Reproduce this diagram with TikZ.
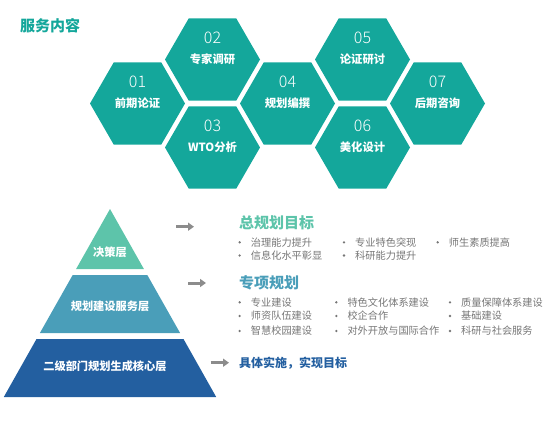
\documentclass[tikz,border=0pt]{standalone}
\usepackage{fontspec}
\newfontfamily\cjk{Noto Sans CJK SC}
\newfontfamily\cjkxi{Noto Sans CJK SC Light}
\usetikzlibrary{arrows.meta,shapes.geometric}
\definecolor{qing}{RGB}{20,167,155}
\definecolor{bohe}{RGB}{93,196,170}
\definecolor{hulan}{RGB}{74,158,185}
\definecolor{shenlan}{RGB}{35,95,160}
\definecolor{huise}{RGB}{118,118,118}
\definecolor{jianhui}{RGB}{140,140,140}
\tikzset{
  liubian/.style={regular polygon,regular polygon sides=6,minimum size=95pt,inner sep=0pt,fill=qing},
  haoma/.style={text=white,font=\cjkxi\fontsize{16}{16}\selectfont},
  mingcheng/.style={text=white,font=\cjk\bfseries\fontsize{11.3}{12}\selectfont},
  ceng/.style={text=white,font=\cjk\bfseries\fontsize{11.2}{12}\selectfont},
  biaoti/.style={anchor=west,inner sep=0pt,font=\cjk\bfseries\fontsize{15}{16}\selectfont},
  xiang/.style={anchor=west,inner sep=0pt,text=huise,font=\cjk\fontsize{10.2}{11}\selectfont},
  dian/.style={circle,fill=huise,inner sep=0.9pt},
  jiantou/.style={jianhui,line width=3pt,-{Triangle[length=6pt,width=8pt]}},
}
\begin{document}
\begin{tikzpicture}[x=1pt,y=-1pt]
  \useasboundingbox (0,0) rectangle (560,421);
  \node[biaoti,text=qing] (fw) at (20,26) {服务内容};
  % hexagons
  \node[liubian] (h1) at (137.5,103.5) {};
  \node[liubian] (h2) at (212.5,59.5) {};
  \node[liubian] (h3) at (212.5,147.5) {};
  \node[liubian] (h4) at (287.5,103.5) {};
  \node[liubian] (h5) at (362.5,59.5) {};
  \node[liubian] (h6) at (362.5,147.5) {};
  \node[liubian] (h7) at (437.5,103.5) {};
  \foreach \h/\n/\t in {h1/01/前期论证,h2/02/专家调研,h3/03/WTO分析,h4/04/规划编撰,
      h5/05/论证研讨,h6/06/美化设计,h7/07/后期咨询} {
    \node[haoma] (\h n) at ([yshift=22pt]\h.center) {\n};
    \node[mingcheng] (\h t) at (\h.center) {\t};
  }
  % pyramid
  \fill[bohe] (110,209) -- (143.9,269) -- (76.1,269) -- cycle;
  \fill[hulan] (72.7,275) -- (147.3,275) -- (180.1,333) -- (39.9,333) -- cycle;
  \fill[shenlan] (36.5,339) -- (183.5,339) -- (216.2,397) -- (3.8,397) -- cycle;
  \node[ceng] (c1) at (110,252) {决策层};
  \node[ceng] (c2) at (110,306.7) {规划建设服务层};
  \node[ceng] (c3) at (105,366) {二级部门规划生成核心层};
  % arrows
  \coordinate (a1) at (176,226.7);   \coordinate (b1) at (194,226.7);
  \coordinate (a2) at (188,283);     \coordinate (b2) at (206,283);
  \coordinate (a3) at (210.7,362.7); \coordinate (b3) at (229,362.7);
  \draw[jiantou] (a1) -- (b1);
  \draw[jiantou] (a2) -- (b2);
  \draw[jiantou] (a3) -- (b3);
  \node[biaoti,text=bohe] (m1) at (239,223) {总规划目标};
  \node[biaoti,text=hulan] (m2) at (239,283) {专项规划};
  \node[biaoti,text=shenlan,font=\cjk\bfseries\fontsize{12}{13}\selectfont] (m3) at (239,362.7) {具体实施，实现目标};
  % items
  \foreach \x/\y/\t [count=\i] in {
      250.7/242.3/治理能力提升, 355/242.3/专业特色突现, 448.7/242.3/师生素质提高,
      250.7/255.5/信息化水平彰显, 355/255.5/科研能力提升,
      250.7/302.3/专业建设, 347.3/302.3/特色文化体系建设, 461/302.3/质量保障体系建设,
      250.7/316/师资队伍建设, 347.3/316/校企合作, 461/316/基础建设,
      250.7/331/智慧校园建设, 347.3/331/对外开放与国际合作, 461/331/科研与社会服务} {
    \node[xiang] (x\i) at (\x,\y) {\t};
    \node[dian] (d\i) at ([xshift=-11pt]x\i.west) {};
  }
\end{tikzpicture}
\end{document}
